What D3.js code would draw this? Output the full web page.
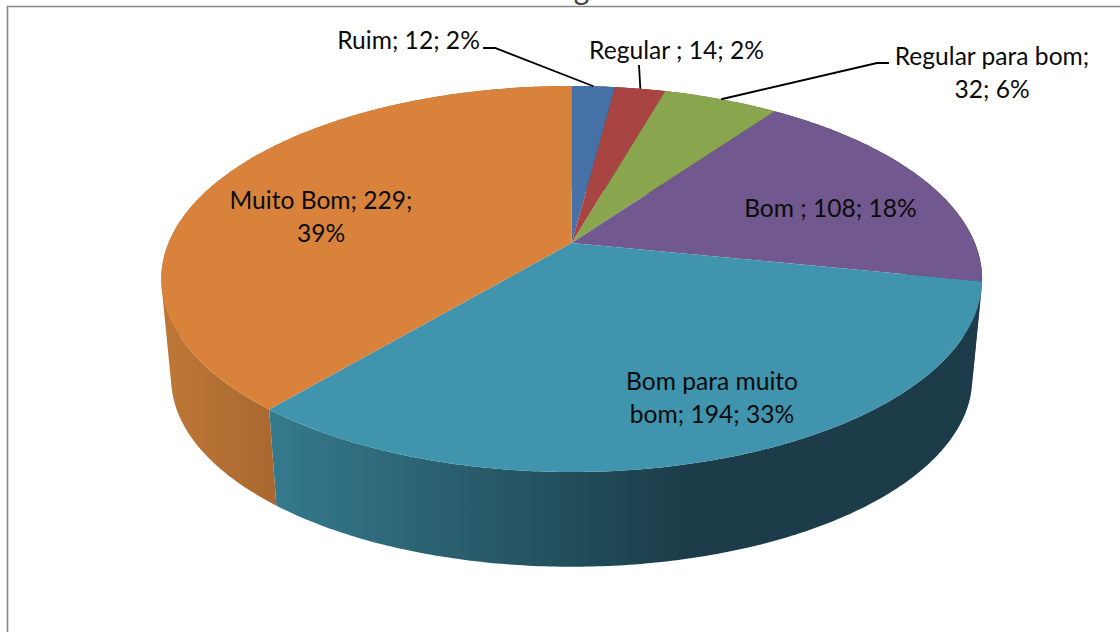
<!DOCTYPE html>
<html><head><meta charset="utf-8">
<script src="https://cdn.jsdelivr.net/npm/d3@7/dist/d3.min.js"></script>
<style>html,body{margin:0;padding:0;background:#fff;overflow:hidden}svg{display:block}
text{font-family:Lato,"Open Sans",sans-serif;fill:#0b0b0b}</style></head>
<body><svg id="c" width="1120" height="632"></svg>
<script>
const categories=["Ruim","Regular ","Regular para bom","Bom ","Bom para muito bom","Muito Bom"];
const counts=[12,14,32,108,194,229];
const percents=[2,2,6,18,33,39];
const topColors=["#4571a6","#a84442","#89a54e","#71588f","#4094ae","#d9823b"];
const sideLight=["#3a5f8c","#8d3937","#738a41","#5f4a78","#357a8d","#bc7636"];
const sideDark=["#2f4d72","#73302e","#5e7136","#4d3c62","#1b3c48","#a9672f"];
const titleText="Total geral";

const svg=d3.select("#c");
// perspective model of the pie disc
const cx=571.7,cy=243,R=403.2,S=186.3,k=0.1865;
const vanishY=4420,shrink=0.976;
const project=(a)=>{const X=Math.sin(a),Y=Math.cos(a),w=1+k*Y;return [cx+R*X/w,cy-S*Y/w];};
const lower=(p)=>[cx+(p[0]-cx)*shrink,vanishY-(vanishY-p[1])*shrink];
const line=d3.line();
const arcs=d3.pie().sort(null).value(d=>d)(counts);
const rim=(d)=>{const n=Math.max(2,Math.ceil((d.endAngle-d.startAngle)*90));return d3.range(n+1).map(i=>project(d.startAngle+(d.endAngle-d.startAngle)*i/n));};
// the side wall as small quads, all wound the same way so the silhouette fills solid
const wall=(d)=>{const r=rim(d);return d3.range(r.length-1).map(i=>{
  const q=[r[i],r[i+1],lower(r[i+1]),lower(r[i])];
  if(d3.polygonArea(q)<0)q.reverse();
  return line(q)+"Z";}).join("");};

const defs=svg.append("defs");
arcs.forEach((d,i)=>{
  const g=defs.append("linearGradient").attr("id","side"+i).attr("gradientUnits","userSpaceOnUse");
  const teal=i===4;
  g.attr("x1",teal?270:172).attr("x2",teal?690:277).attr("y1",0).attr("y2",0);
  g.append("stop").attr("offset",0).attr("stop-color",sideLight[i]);
  g.append("stop").attr("offset",1).attr("stop-color",sideDark[i]);
});

// frame
svg.append("path").attr("d","M7.5,632V6.5H1120").attr("fill","none").attr("stroke","#868686").attr("stroke-width",1.6);

// clipped title
svg.append("text").attr("x",570).attr("y",-0.5).attr("text-anchor","middle").attr("font-size",30).style("fill","#444").text(titleText);

// sides, back to front
svg.append("g").selectAll("path").data(arcs).join("path")
  .attr("d",wall)
  .attr("fill",(d,i)=>`url(#side${i})`);

// top faces
svg.append("g").selectAll("path").data(arcs).join("path")
  .attr("d",d=>line([[cx,cy]].concat(rim(d)))+"Z")
  .attr("fill",(d,i)=>topColors[i]);

// leader lines for the three small slices
const leaderStart=[[[483,48],[495,48]],[[639,65]],[[889,63],[877,63]]];
svg.append("g").selectAll("path").data(leaderStart).join("path")
  .attr("d",(pts,i)=>{const a=(arcs[i].startAngle+arcs[i].endAngle)/2;return line(pts.concat([project(a)]));})
  .attr("fill","none").attr("stroke","#000").attr("stroke-width",1.8);

// labels
const labelLines=categories.map((c,i)=>`${c}; ${counts[i]}; ${percents[i]}%`);
const wrapped=[[labelLines[0]],[labelLines[1]],["Regular para bom;","32; 6%"],[labelLines[3]],["Bom para muito","bom; 194; 33%"],["Muito Bom; 229;","39%"]];
const anchors=[[408.5,49],[676.5,59],[992,65],[830.5,217],[712,390],[321,209]];
const fs=24.6,lh=32.5;
const lab=svg.append("g").selectAll("text").data(wrapped).join("text")
  .attr("text-anchor","middle").attr("font-size",fs)
  .attr("x",(d,i)=>anchors[i][0]).attr("y",(d,i)=>anchors[i][1]);
lab.selectAll("tspan").data(d=>d).join("tspan")
  .attr("x",function(){return this.parentNode.getAttribute("x");})
  .attr("dy",(d,j)=>j?lh:0).text(d=>d);
</script></body></html>
